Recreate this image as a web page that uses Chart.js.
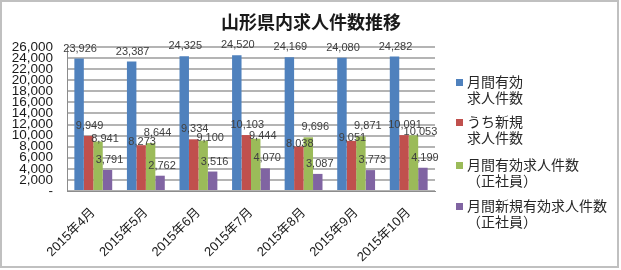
<!DOCTYPE html>
<html><head><meta charset="utf-8">
<script src="https://cdn.jsdelivr.net/npm/chart.js@4.4.1/dist/chart.umd.min.js"></script>
<style>html,body{margin:0;padding:0;background:#fff;}canvas{display:block;}</style>
</head><body>
<canvas id="c" width="621" height="270"></canvas>
<script>
const titleText = '山形県内求人件数推移';
const categories = ['2015年4月','2015年5月','2015年6月','2015年7月','2015年8月','2015年9月','2015年10月'];
const seriesNames = [['月間有効','求人件数'],['うち新規','求人件数'],['月間有効求人件数','（正社員）'],['月間新規有効求人件数','（正社員）']];
const monthlyActive = [23926, 23387, 24325, 24520, 24169, 24080, 24282];
const newOpenings = [9949, 8273, 9334, 10103, 8038, 9051, 10091];
const activeRegular = [8941, 8644, 9100, 9444, 9696, 9871, 10053];
const newActiveRegular = [3791, 2762, 3516, 4070, 3087, 3773, 4199];
const colors = ['#4F81BD','#C0504D','#9BBB59','#8064A2'];
const yMin = 0, yMax = 26000, yStep = 2000;

const seriesValues = [monthlyActive, newOpenings, activeRegular, newActiveRegular];
const numFont = 'Liberation Sans, Arial, sans-serif';
const jpFont = '"Noto Sans CJK JP", sans-serif';

const extras = {
  id: 'extras',
  afterDatasetsDraw(chart) {
    const ctx = chart.ctx;
    ctx.save();
    // data labels (outside end, with simple collision handling like Excel)
    ctx.font = '11px ' + numFont;
    ctx.fillStyle = '#404040';
    ctx.textAlign = 'center';
    ctx.textBaseline = 'middle';
    const xShift = [1, 1, 3, 2];
    const n = chart.data.labels.length;
    for (let j = 0; j < n; j++) {
      const pos = chart.data.datasets.map((ds, i) => {
        const bar = chart.getDatasetMeta(i).data[j];
        return { x: bar.x + xShift[i], y: bar.y - 10, top: bar.y, v: ds.data[j] };
      });
      // red (1) vs green (2) collision: lower-valued label slides down onto its bar
      const r = pos[1], g = pos[2];
      if (Math.abs(r.y - g.y) < 11) {
        const low = r.v < g.v ? r : g;
        low.y = low.top - 3;
        g.x += 4;
      }
      pos.forEach(p => ctx.fillText(p.v.toLocaleString('en-US'), p.x, p.y));
    }
    // title
    ctx.font = 'bold 18px ' + jpFont;
    ctx.fillStyle = '#1a1a1a';
    ctx.fillText(titleText, 311, 22);
    // legend
    ctx.textAlign = 'left';
    ctx.font = '14px ' + jpFont;
    const itemY = [82, 122, 165, 206];
    chart.data.datasets.forEach((ds, i) => {
      const y = itemY[i];
      ctx.fillStyle = ds.backgroundColor;
      ctx.fillRect(456, y - 3, 7, 7);
      ctx.fillStyle = '#262626';
      seriesNames[i].forEach((line, k) => {
        ctx.fillText(line, 467, y + k * 16);
      });
    });
    // frame
    ctx.strokeStyle = '#c0c0c0';
    ctx.lineWidth = 2;
    ctx.strokeRect(1, 1, 617, 266);
    ctx.restore();
  }
};

new Chart(document.getElementById('c'), {
  type: 'bar',
  data: {
    labels: categories,
    datasets: seriesValues.map((v, i) => ({
      label: seriesNames[i].join(''),
      data: v,
      backgroundColor: colors[i],
      borderWidth: 0,
      categoryPercentage: 0.72,
      barPercentage: 1.0
    }))
  },
  options: {
    responsive: false,
    animation: false,
    layout: { padding: { top: 47, right: 186, left: 0, bottom: 0 } },
    plugins: { legend: { display: false }, title: { display: false }, tooltip: { enabled: false } },
    scales: {
      x: {
        grid: { display: false },
        border: { display: true, color: '#8c8c8c', width: 1 },
        ticks: { minRotation: 45, maxRotation: 45, autoSkip: false, padding: 6,
                 color: '#1a1a1a', font: { size: 13, family: numFont + ', "Noto Sans CJK JP"' } },
        afterFit(s) { s.height = 79; }
      },
      y: {
        min: yMin, max: yMax,
        grid: { color: '#b4b4b4', lineWidth: 2, drawTicks: false },
        border: { display: true, color: '#8c8c8c', width: 1 },
        ticks: { stepSize: yStep, autoSkip: false, padding: 14, color: '#1a1a1a',
                 font: { size: 13.5, family: numFont },
                 callback: v => v === 0 ? '-' : v.toLocaleString('en-US') },
        afterFit(s) { s.width = 67; }
      }
    }
  },
  plugins: [extras]
});
</script>
</body></html>
